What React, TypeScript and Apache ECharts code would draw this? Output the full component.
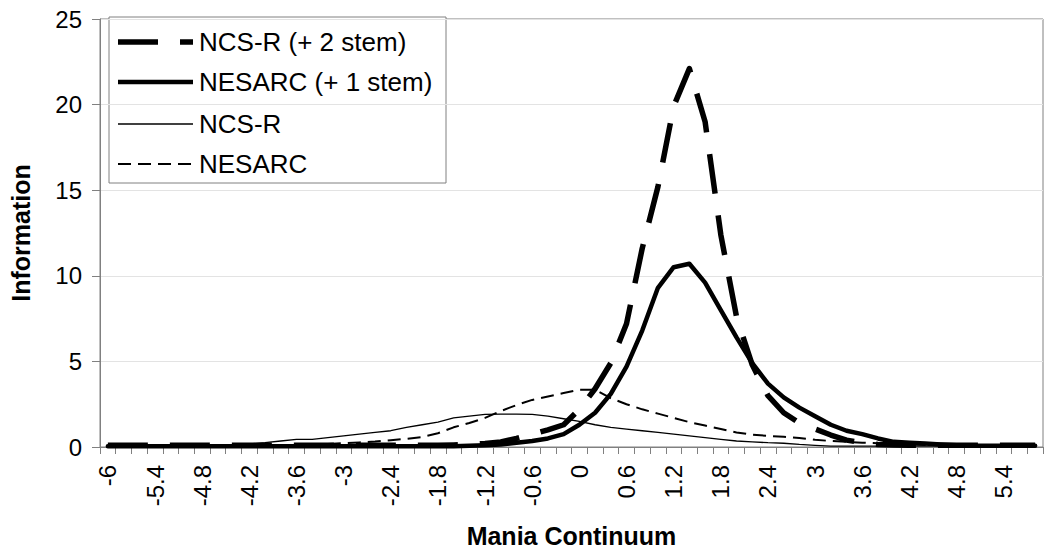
import React, { useEffect, useRef } from "react";
import * as echarts from "echarts";

const categories = [
  "-6", "-5.8", "-5.6", "-5.4", "-5.2", "-5", "-4.8", "-4.6", "-4.4", "-4.2",
  "-4", "-3.8", "-3.6", "-3.4", "-3.2", "-3", "-2.8", "-2.6", "-2.4", "-2.2",
  "-2", "-1.8", "-1.6", "-1.4", "-1.2", "-1", "-0.8", "-0.6", "-0.4", "-0.2",
  "0", "0.2", "0.4", "0.6", "0.8", "1", "1.2", "1.4", "1.6", "1.8",
  "2", "2.2", "2.4", "2.6", "2.8", "3", "3.2", "3.4", "3.6", "3.8",
  "4", "4.2", "4.4", "4.6", "4.8", "5", "5.2", "5.4", "5.6", "5.8",
];

const seriesNames = ["NCS-R (+ 2 stem)", "NESARC (+ 1 stem)", "NCS-R", "NESARC"];

// NCS-R (+ 2 stem) — thick long-dashed
const ncsr2Stem = [
  0.1, 0.1, 0.1, 0.1, 0.1, 0.1, 0.1, 0.1, 0.1, 0.1,
  0.1, 0.1, 0.1, 0.1, 0.1, 0.1, 0.1, 0.1, 0.1, 0.1,
  0.1, 0.1, 0.12, 0.15, 0.2, 0.3, 0.5, 0.75, 1.0, 1.3,
  2.2, 3.4, 4.9, 7.2, 11.6, 15.2, 19.9, 22.1, 19.0, 12.4,
  7.6, 4.8, 3.0, 2.0, 1.4, 1.05, 0.7, 0.4, 0.25, 0.15,
  0.12, 0.1, 0.1, 0.1, 0.1, 0.1, 0.1, 0.1, 0.1, 0.1,
];

// NESARC (+ 1 stem) — thick solid
const nesarc1Stem = [
  0.05, 0.05, 0.05, 0.05, 0.05, 0.05, 0.05, 0.05, 0.05, 0.05,
  0.05, 0.05, 0.05, 0.05, 0.05, 0.05, 0.05, 0.05, 0.05, 0.05,
  0.05, 0.05, 0.05, 0.07, 0.1, 0.15, 0.25, 0.35, 0.5, 0.75,
  1.3, 2.0, 3.1, 4.7, 6.8, 9.3, 10.5, 10.7, 9.6, 8.0,
  6.4, 4.9, 3.7, 2.9, 2.3, 1.8, 1.3, 0.95, 0.75, 0.5,
  0.3, 0.25, 0.2, 0.15, 0.1, 0.08, 0.08, 0.08, 0.08, 0.08,
];

// NCS-R — thin solid
const ncsr = [
  0.05, 0.05, 0.05, 0.05, 0.05, 0.05, 0.05, 0.05, 0.12, 0.18,
  0.25, 0.35, 0.45, 0.45, 0.55, 0.65, 0.75, 0.85, 0.95, 1.15,
  1.3, 1.45, 1.7, 1.8, 1.9, 1.92, 1.92, 1.9, 1.8, 1.65,
  1.5, 1.3, 1.15, 1.05, 0.95, 0.85, 0.75, 0.65, 0.55, 0.45,
  0.35, 0.3, 0.25, 0.22, 0.15, 0.1, 0.05, 0.05, 0.05, 0.05,
  0.05, 0.05, 0.05, 0.05, 0.05, 0.05, 0.05, 0.05, 0.05, 0.05,
];

// NESARC — thin dashed
const nesarc = [
  0.05, 0.05, 0.05, 0.05, 0.05, 0.05, 0.05, 0.05, 0.05, 0.05,
  0.05, 0.08, 0.12, 0.15, 0.18, 0.22, 0.27, 0.32, 0.4, 0.48,
  0.58, 0.8, 1.15, 1.4, 1.7, 2.1, 2.45, 2.75, 2.95, 3.15,
  3.35, 3.35, 2.85, 2.5, 2.2, 1.95, 1.7, 1.45, 1.25, 1.05,
  0.85, 0.72, 0.65, 0.6, 0.52, 0.42, 0.35, 0.3, 0.25, 0.22,
  0.18, 0.15, 0.12, 0.1, 0.08, 0.08, 0.08, 0.08, 0.08, 0.08,
];

const yTicks = { min: 0, max: 25, interval: 5 };

const FONT = "Arial, 'Liberation Sans', Helvetica, sans-serif";

const thickDash = [40, 22];
const thinDash = [13, 7];

export default function App() {
  const ref = useRef<HTMLDivElement>(null);

  useEffect(() => {
    if (!ref.current) return;
    const chart = echarts.init(ref.current, undefined, { renderer: "svg" });

    const legendLeft = 109;
    const legendTop = 17;
    const rowY = [42, 82, 124, 164];
    const styles = [
      { lineWidth: 5.5, lineDash: thickDash },
      { lineWidth: 4.5, lineDash: null },
      { lineWidth: 1.3, lineDash: null },
      { lineWidth: 2, lineDash: thinDash },
    ];
    const legendChildren: any[] = [
      {
        type: "rect",
        shape: { x: legendLeft, y: legendTop, width: 337, height: 166 },
        style: { fill: "#fff", stroke: "#808080", lineWidth: 1 },
      },
    ];
    seriesNames.forEach((name, i) => {
      legendChildren.push({
        type: "line",
        shape: { x1: 118, y1: rowY[i], x2: 193, y2: rowY[i] },
        style: {
          stroke: "#000",
          lineWidth: styles[i].lineWidth,
          lineDash: styles[i].lineDash,
        },
      });
      legendChildren.push({
        type: "text",
        x: 199,
        y: rowY[i],
        style: {
          text: name,
          fill: "#000",
          font: `26px ${FONT}`,
          textVerticalAlign: "middle",
          verticalAlign: "middle",
        },
      });
    });

    chart.setOption({
      animation: false,
      backgroundColor: "#fff",
      textStyle: { fontFamily: FONT },
      grid: {
        left: 100,
        right: 7,
        top: 19,
        bottom: 107,
        show: true,
        borderColor: "#808080",
        borderWidth: 1,
        backgroundColor: "transparent",
      },
      xAxis: {
        type: "category",
        data: categories,
        boundaryGap: true,
        name: "Mania Continuum",
        nameLocation: "middle",
        nameGap: 76,
        nameTextStyle: { fontSize: 25, fontWeight: "bold", color: "#000", fontFamily: FONT },
        axisLine: { show: true, lineStyle: { color: "#808080", width: 1 } },
        axisTick: { show: true, interval: 0, length: 7, lineStyle: { color: "#808080" } },
        axisLabel: {
          interval: 2,
          rotate: 90,
          fontSize: 24,
          color: "#000",
          margin: 18,
          fontFamily: FONT,
        },
        splitLine: { show: false },
      },
      yAxis: {
        type: "value",
        min: yTicks.min,
        max: yTicks.max,
        interval: yTicks.interval,
        name: "Information",
        nameLocation: "middle",
        nameGap: 67,
        nameTextStyle: { fontSize: 25, fontWeight: "bold", color: "#000", fontFamily: FONT },
        axisLine: { show: true, lineStyle: { color: "#808080", width: 1 } },
        axisTick: { show: true, length: 8, lineStyle: { color: "#808080" } },
        axisLabel: { fontSize: 24, color: "#000", margin: 18, fontFamily: FONT },
        splitLine: { show: true, lineStyle: { color: "#e3e3e3", width: 1 } },
      },
      series: [
        {
          type: "line",
          name: seriesNames[0],
          data: ncsr2Stem,
          symbol: "none",
          lineStyle: { color: "#000", width: 5.5, type: thickDash, cap: "butt", join: "round" },
          z: 5,
        },
        {
          type: "line",
          name: seriesNames[1],
          data: nesarc1Stem,
          symbol: "none",
          lineStyle: { color: "#000", width: 4.5, type: "solid", cap: "round", join: "round" },
          z: 4,
        },
        {
          type: "line",
          name: seriesNames[2],
          data: ncsr,
          symbol: "none",
          lineStyle: { color: "#000", width: 1.3, type: "solid" },
          z: 3,
        },
        {
          type: "line",
          name: seriesNames[3],
          data: nesarc,
          symbol: "none",
          lineStyle: { color: "#000", width: 2, type: thinDash },
          z: 3,
        },
      ],
      graphic: [{ type: "group", z: 100, children: legendChildren }],
    });

    return () => chart.dispose();
  }, []);

  return (
    <div
      ref={ref}
      style={{ position: "fixed", left: 0, top: 0, width: 1050, height: 554, background: "#fff" }}
    />
  );
}
